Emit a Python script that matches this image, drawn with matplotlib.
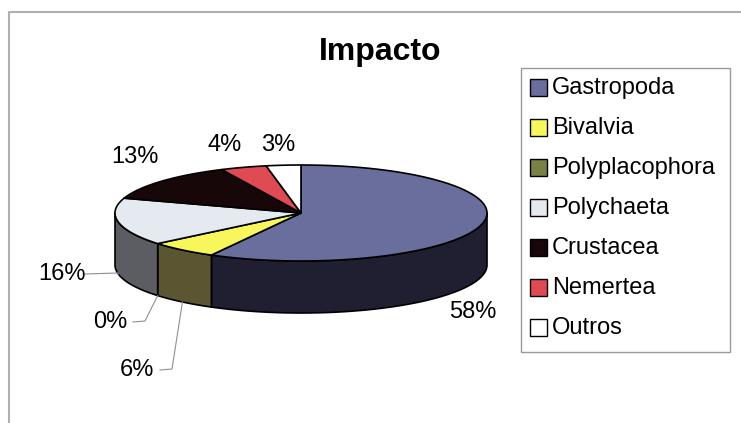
import numpy as np
import matplotlib.pyplot as plt
from matplotlib.patches import Polygon, Rectangle

plt.rcParams['font.family'] = ['Liberation Sans', 'DejaVu Sans']

# dados
grupos = ['Gastropoda', 'Bivalvia', 'Polyplacophora', 'Polychaeta',
          'Crustacea', 'Nemertea', 'Outros']
pcts = [58, 6, 0, 16, 13, 4, 3]

cor_topo = ['#6a6e9c', '#f7f75c', '#7b8044', '#e4eaef',
            '#170709', '#e04a52', '#ffffff']
cor_lado = ['#1f1f31', '#5c5531', '#3e4022', '#5b5d63',
            '#0c0304', '#702528', '#808080']

# geometria da pizza (pixels)
cx, cy, rx, ry, prof = 301, 213, 186, 48, 52

# posicao dos rotulos e se tem linha guia
rot_pos = [(473, 312), (137, 370), (110, 322), (62, 274),
           (135, 157), (225, 145), (278, 145)]
guia = [False, True, True, True, False, False, False]


def pt(a, dy=0):
    a = np.radians(a)
    return cx + rx * np.cos(a), cy - ry * np.sin(a) + dy


fig = plt.figure(figsize=(7.41, 4.23), dpi=100)
ax = fig.add_axes([0, 0, 1, 1])
ax.set_xlim(0, 741)
ax.set_ylim(423, 0)
ax.axis('off')

# moldura
ax.plot([9, 9, 741], [423, 12, 12], color='#b0b0b0', lw=1.5)

ax.text(380, 52, 'Impacto', ha='center', va='center',
        fontsize=23, fontweight='bold')

# angulos das fatias, sentido horario a partir do topo
fim = 90 - 360 * np.cumsum(pcts) / 100.0
ini = np.concatenate([[90], fim[:-1]])

# laterais (so a metade da frente aparece)
for i in range(len(pcts)):
    a0 = min(ini[i], 0)
    a1 = max(fim[i], -180)
    if a0 <= a1:
        continue
    t = np.linspace(a0, a1, 80)
    sup = [pt(a) for a in t]
    inf = [pt(a, prof) for a in t[::-1]]
    ax.add_patch(Polygon(sup + inf, closed=True, fc=cor_lado[i],
                         ec='black', lw=1.2, joinstyle='round'))

# topo
for i in range(len(pcts)):
    if pcts[i] == 0:
        continue
    t = np.linspace(ini[i], fim[i], 120)
    pts = [(cx, cy)] + [pt(a) for a in t]
    ax.add_patch(Polygon(pts, closed=True, fc=cor_topo[i],
                         ec='black', lw=1.2, joinstyle='round'))

# rotulos de porcentagem
for i in range(len(pcts)):
    x, y = rot_pos[i]
    ax.text(x, y, '%d%%' % pcts[i], ha='center', va='center', fontsize=17)
    if guia[i]:
        meio = (ini[i] + fim[i]) / 2
        axp, ayp = pt(meio, prof)
        x0 = x + 23
        x1 = x0 + 12 if abs(ayp - y) > 6 else axp
        ax.plot([x0, x1, axp], [y, y - 1, ayp], color='#909090', lw=0.8)

# legenda
ax.add_patch(Rectangle((521, 68), 209, 284, fc='white', ec='#999999', lw=1))
for i, g in enumerate(grupos):
    y = 88 + 40 * i
    ax.add_patch(Rectangle((530, y - 8.5), 17, 17, fc=cor_topo[i],
                           ec='black', lw=1))
    ax.text(552, y, g, ha='left', va='center', fontsize=17)

fig.savefig('out.png', dpi=100)
